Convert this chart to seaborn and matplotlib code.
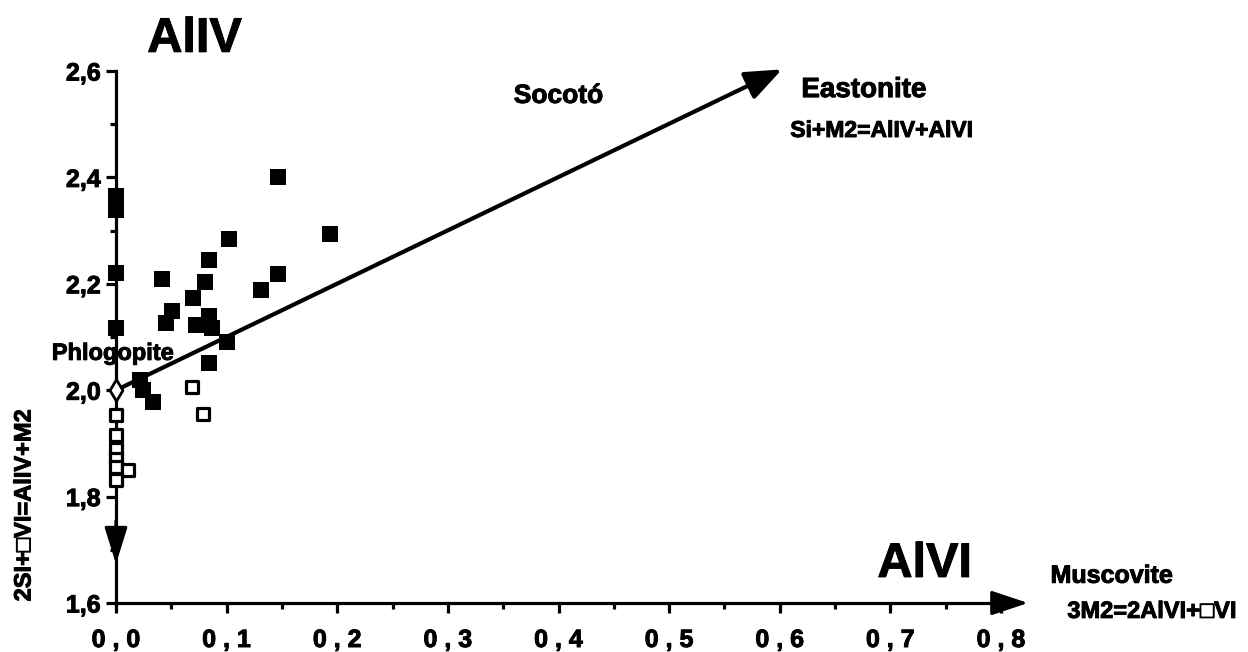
import numpy as np
import pandas as pd
import matplotlib
matplotlib.use("Agg")
import matplotlib.pyplot as plt
import matplotlib.patheffects as pe
import seaborn as sns

# ---- data ----
filled_x = [0.146, 0.193, 0.102, 0.084, 0.042, 0.080, 0.146, 0.131, 0.070, 0.051,
            0.084, 0.045, 0.072, 0.087, 0.0, 0.0, 0.0, 0.0, 0.0,
            0.100, 0.084, 0.022, 0.024, 0.033]
filled_y = [2.401, 2.294, 2.284, 2.245, 2.209, 2.203, 2.218, 2.188, 2.173, 2.149,
            2.139, 2.126, 2.123, 2.117, 2.117, 2.221, 2.365, 2.350, 2.338,
            2.091, 2.051, 2.019, 2.000, 1.978]
open_x = [0.069, 0.079, 0.0, 0.0, 0.0, 0.0, 0.0, 0.011, 0.0]
open_y = [2.006, 1.955, 1.953, 1.915, 1.890, 1.870, 1.855, 1.850, 1.831]
phlog_x = [0.0]
phlog_y = [2.0]
trend_start = (0.0, 2.0)
trend_end = (0.602, 2.603)
x_ticks = [0.0, 0.1, 0.2, 0.3, 0.4, 0.5, 0.6, 0.7, 0.8]
x_labels = ["0 , 0", "0 , 1", "0 , 2", "0 , 3", "0 , 4", "0 , 5", "0 , 6", "0 , 7", "0 , 8"]
y_ticks = [1.6, 1.8, 2.0, 2.2, 2.4, 2.6]
y_labels = ["1,6", "1,8", "2,0", "2,2", "2,4", "2,6"]

sns.set_style("ticks")
plt.rcParams['font.family'] = ['Liberation Sans', 'DejaVu Sans']
plt.rcParams['font.weight'] = 'bold'
for k in ["text.color", "xtick.color", "ytick.color", "axes.labelcolor", "axes.edgecolor"]:
    plt.rcParams[k] = "black"

heavy = [pe.withStroke(linewidth=0.7, foreground="black")]

W, H = 1248, 652
fig = plt.figure(figsize=(W / 100, H / 100), dpi=100)
x0px, x8px = 116, 1001
ytop, ybot = 71, 603
ax = fig.add_axes([x0px / W, (H - ybot) / H, (x8px - x0px) / W, (ybot - ytop) / H])
ax.set_xlim(0, 0.8)
ax.set_ylim(1.6, 2.6)

df_f = pd.DataFrame({"x": filled_x, "y": filled_y})
df_o = pd.DataFrame({"x": open_x, "y": open_y})

sns.scatterplot(data=df_f, x="x", y="y", ax=ax, marker="s", s=140, color="black",
                edgecolor="black", linewidth=0, clip_on=False, zorder=5)
sns.scatterplot(data=df_o, x="x", y="y", ax=ax, marker="s", s=75, facecolor="white",
                edgecolor="black", linewidth=2.3, clip_on=False, zorder=6)
ax.scatter(phlog_x, phlog_y, marker="d", s=120, facecolor="white", edgecolor="black",
           linewidth=2.0, clip_on=False, zorder=7)

# spines
for s in ["top", "right"]:
    ax.spines[s].set_visible(False)
for s in ["left", "bottom"]:
    ax.spines[s].set_linewidth(2.3)
    ax.spines[s].set_color("black")

ax.set_xticks(x_ticks)
ax.set_xticklabels(x_labels, fontsize=18, fontweight="bold", path_effects=heavy)
ax.set_xticks(np.arange(0.05, 0.8, 0.1), minor=True)
ax.set_yticks(y_ticks)
ax.set_yticklabels(y_labels, fontsize=18, fontweight="bold", path_effects=heavy)
ax.set_yticks(np.arange(1.7, 2.6, 0.2), minor=True)
ax.tick_params(axis="x", which="major", direction="out", length=7, width=2.3, pad=11)
ax.tick_params(axis="x", which="minor", direction="out", length=4, width=2.3)
ax.tick_params(axis="y", which="major", direction="out", length=7, width=2.3, pad=4)
ax.tick_params(axis="y", which="minor", direction="out", length=4, width=2.3)
ax.set_xlabel("")
ax.set_ylabel("")

# arrows
ax.annotate("", xy=(0.827, 1.6), xytext=(0.79, 1.6), annotation_clip=False,
            arrowprops=dict(arrowstyle="-|>,head_length=0.9,head_width=0.3",
                            mutation_scale=25, lw=2.3, color="black"))
ax.annotate("", xy=(0.0, 1.668), xytext=(0.0, 1.76), annotation_clip=False,
            arrowprops=dict(arrowstyle="-|>,head_length=0.9,head_width=0.28",
                            mutation_scale=25, lw=2.3, color="black"))
ax.annotate("", xy=trend_end, xytext=trend_start, annotation_clip=False,
            arrowprops=dict(arrowstyle="-|>,head_length=0.9,head_width=0.36",
                            mutation_scale=25, lw=3.0, color="black",
                            shrinkA=0, shrinkB=0), zorder=4)

# texts
ax.text(0.071, 2.636, "AlIV", fontsize=35, fontweight="bold", ha="center", va="baseline",
        path_effects=heavy)
ax.text(0.731, 1.649, "AlVI", fontsize=35, fontweight="bold", ha="center", va="baseline",
        path_effects=heavy)
ax.text(0.400, 2.540, "Socotó", fontsize=19, fontweight="bold", ha="center", va="baseline",
        path_effects=heavy)
ax.text(0.676, 2.551, "Eastonite", fontsize=20, fontweight="bold", ha="center", va="baseline",
        path_effects=heavy)
ax.text(0.692, 2.476, "Si+M2=AlIV+AlVI", fontsize=16.5, fontweight="bold", ha="center",
        va="baseline", path_effects=heavy)
ax.text(0.900, 1.638, "Muscovite", fontsize=18, fontweight="bold", ha="center", va="baseline",
        path_effects=heavy)
ax.text(0.860, 1.572, "3M2=2AlVI+\u25a1VI", fontsize=17, fontweight="bold", ha="left",
        va="baseline", path_effects=heavy)
ax.text(-0.003, 2.057, "Phlogopite", fontsize=17, fontweight="bold", ha="center", va="baseline",
        zorder=3, path_effects=heavy)
fig.text(24 / W, 1 - 505 / H, "2SI+\u25a1VI=AlIV+M2", rotation=90, fontsize=17,
         fontweight="bold", ha="center", va="center", path_effects=heavy)

fig.savefig("out.png", dpi=100, facecolor="white")
